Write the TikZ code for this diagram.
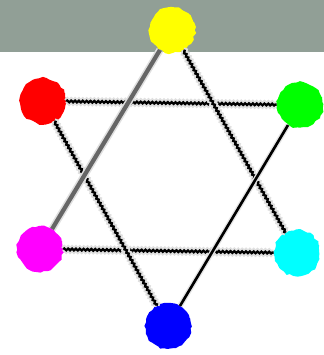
\documentclass[tikz,border=0pt]{standalone}
\usepackage{tikz}
\usetikzlibrary{decorations.pathmorphing}

\definecolor{band}{RGB}{145,159,150}
\definecolor{lime}{RGB}{0,255,0}
\definecolor{pink}{RGB}{255,0,255}
\definecolor{aqua}{RGB}{0,255,255}
\definecolor{deepblue}{RGB}{0,0,255}
\definecolor{sun}{RGB}{255,255,0}

\tikzset{
  dot/.style={circle, minimum size=0.92cm, inner sep=0pt, fill=#1,
    decorate, decoration={random steps, segment length=2pt, amplitude=0.6pt}},
  wiggle/.style={draw=black, line width=1.3pt,
    preaction={draw=black!12, line width=3.4pt},
    decorate, decoration={zigzag, segment length=2.2pt, amplitude=0.5pt}},
}

\begin{document}
\begin{tikzpicture}[x=0.02cm, y=-0.02cm]
            \pgfmathsetseed{7}
            \useasboundingbox (0,0) rectangle (324,355);
            \fill[band] (0,0) rectangle (324,52);

            \node[dot=sun, rotate=20] (yellow) at (172,30) {};
            \node[dot=red, rotate=20] (red) at (43,101) {};
            \node[dot=lime, rotate=20] (green) at (300,105) {};
            \node[dot=pink, rotate=20] (magenta) at (40,249) {};
            \node[dot=aqua, rotate=20] (cyan) at (297,253) {};
            \node[dot=deepblue, rotate=20] (blue) at (168,326) {};

            \draw[wiggle] (red) -- (green);
            \draw[wiggle] (magenta) -- (cyan);
            \draw[wiggle] (red) -- (blue);
            \draw[wiggle] (yellow) -- (cyan);
            \draw[black!60, line width=2.4pt, preaction={draw=black!12, line width=4.2pt}] (yellow) -- (magenta);
            \draw[black, line width=1.5pt, preaction={draw=black!10, line width=3pt}] (green) -- (blue);
        \end{tikzpicture}
\end{document}
